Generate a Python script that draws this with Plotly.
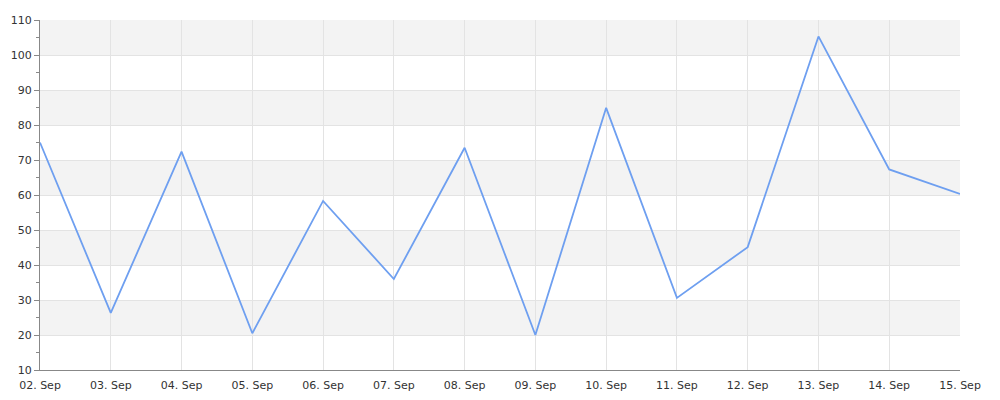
import plotly.graph_objects as go

dates = ["2023-09-02", "2023-09-03", "2023-09-04", "2023-09-05", "2023-09-06",
         "2023-09-07", "2023-09-08", "2023-09-09", "2023-09-10", "2023-09-11",
         "2023-09-12", "2023-09-13", "2023-09-14", "2023-09-15"]
values = [75, 26.3, 72.4, 20.5, 58.3, 36, 73.5, 20, 84.9, 30.6, 45.1, 105.3, 67.3, 60.3]
y_ticks = [10, 20, 30, 40, 50, 60, 70, 80, 90, 100, 110]
band_starts = [20, 40, 60, 80, 100]

fig = go.Figure()
fig.add_trace(go.Scatter(x=dates, y=values, mode="lines",
                         line=dict(color="#6e9ff0", width=1.8),
                         hoverinfo="x+y", showlegend=False))

for b in band_starts:
    fig.add_shape(type="rect", xref="paper", yref="y", x0=0, x1=1, y0=b, y1=b + 10,
                  fillcolor="#f3f3f3", line=dict(width=0), layer="below")

fig.update_layout(
    width=1000, height=400,
    margin=dict(l=32, r=48, t=12, b=38, autoexpand=False),
    plot_bgcolor="white", paper_bgcolor="white",
    font=dict(family="DejaVu Sans", size=11, color="#333333"),
    xaxis=dict(type="date", range=[dates[0], dates[-1]], tickformat="%d. %b",
               dtick=86400000, tick0=dates[0], showgrid=True, gridcolor="#e3e3e3",
               gridwidth=1, showline=True, linecolor="#888888", linewidth=1,
               ticks="", ticklabelstandoff=5, zeroline=False,
               tickfont=dict(size=11, color="#333333")),
    yaxis=dict(range=[10, 110], tickvals=y_ticks, showgrid=True, gridcolor="#e3e3e3",
               gridwidth=1, showline=True, linecolor="#888888", linewidth=1,
               ticks="outside", ticklen=5, tickcolor="#888888", zeroline=False,
               minor=dict(dtick=5, ticks="outside", ticklen=3, tickcolor="#888888", showgrid=False),
               tickfont=dict(size=11, color="#333333")),
)

fig.write_html("out.html")
